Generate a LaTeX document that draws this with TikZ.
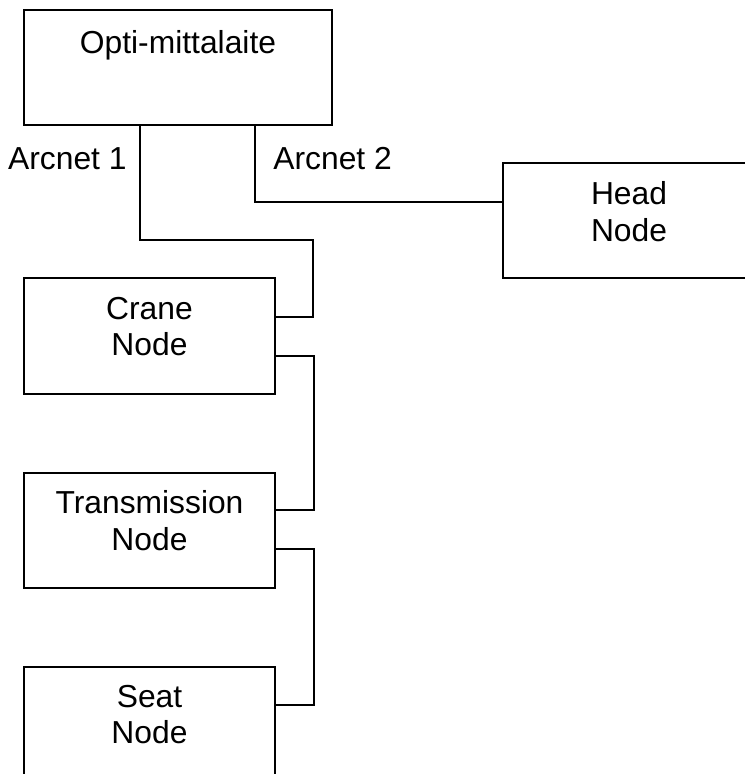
\documentclass[tikz,border=0pt]{standalone}
\usepackage{fontspec}
\setmainfont{Liberation Sans}
\usetikzlibrary{positioning}

\begin{document}
\begin{tikzpicture}[x=0.5pt,y=-0.5pt]
	\tikzset{every node/.style={font=\fontsize{15.9}{18.4}\selectfont}}
	\tikzset{unitbox/.style={draw,line width=1pt,minimum width=125.5pt,minimum height=57.5pt,inner sep=0pt}}
	\tikzset{boxtext/.style={anchor=north,align=center,inner sep=0pt,yshift=-9.5pt}}
	\tikzset{bus/.style={line width=1pt}}
	\useasboundingbox (0,0) rectangle (744,774);
	\node[unitbox,minimum width=154pt,label={[boxtext,yshift=-1pt]north:Opti-mittalaite}] (opti) at (178,67.5) {};
	\node[unitbox,minimum width=126pt,label={[boxtext]north:Head\\Node}] (head) at (629,220.5) {};
	\node[unitbox,label={[boxtext]north:Crane\\Node}] (crane) at (149.5,336) {};
	\node[unitbox,below=38.5pt of crane,label={[boxtext]north:Transmission\\Node}] (trans) {};
	\node[unitbox,below=38.5pt of trans,label={[boxtext]north:Seat\\Node}] (seat) {};
	\node[anchor=base east,inner sep=0pt] (arc1) at (127,170) {Arcnet 1};
	\node[anchor=base west,inner sep=0pt] (arc2) at (273,170) {Arcnet 2};
	\coordinate (tap1) at (313,240);
	\draw[bus] ([xshift=-19pt]opti.south) |- (tap1) |- ([yshift=9.5pt]crane.east);
	\draw[bus] ([xshift=38.5pt]opti.south) |- ([yshift=9pt]head.west);
	\draw[bus] ([yshift=-10pt]crane.east) -- ++(19pt,0) |- ([yshift=10pt]trans.east);
	\draw[bus] ([yshift=-9.5pt]trans.east) -- ++(19pt,0) |- ([yshift=9.5pt]seat.east);
\end{tikzpicture}
\end{document}
